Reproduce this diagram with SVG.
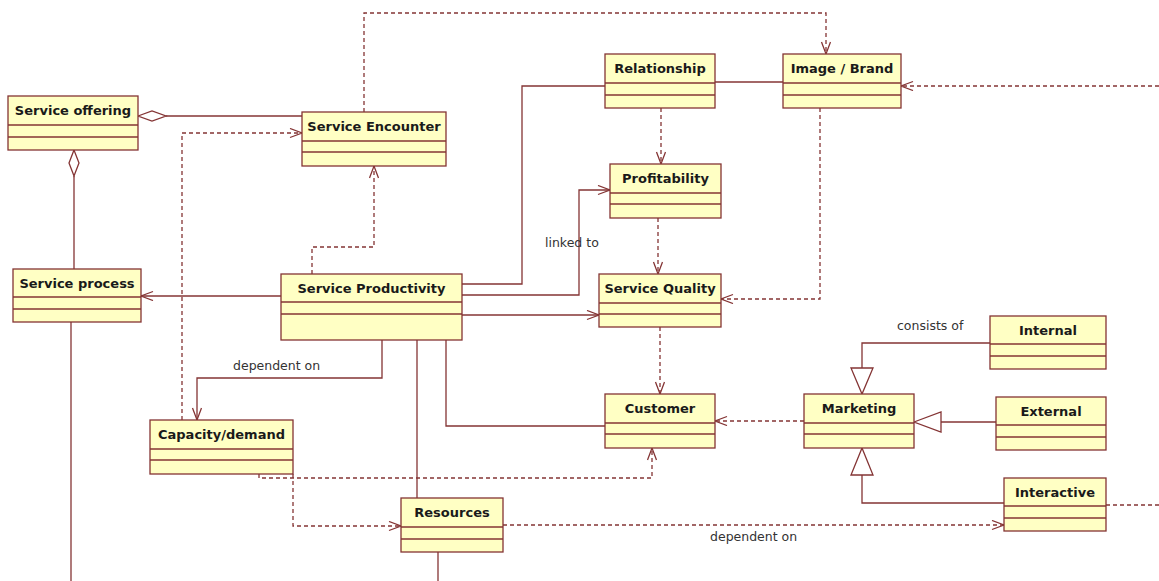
<svg xmlns="http://www.w3.org/2000/svg" width="1159" height="581" viewBox="0 0 1159 581">
<style>
.box{fill:#ffffc4;stroke:#843434;stroke-width:1.3}
.div{stroke:#843434;stroke-width:1.3}
.t{font-family:"DejaVu Sans",sans-serif;font-weight:bold;font-size:13px;fill:#1a1a1a;text-anchor:middle}
.lbl{font-family:"DejaVu Sans",sans-serif;font-size:12.5px;fill:#333333}
.s{fill:none;stroke:#843434;stroke-width:1.3}
.d{fill:none;stroke:#843434;stroke-width:1.3;stroke-dasharray:4 3}
.a{marker-end:url(#arr)}
.hol{fill:#ffffff;stroke:#843434;stroke-width:1.3}
</style>
<defs>
<marker id="arr" markerUnits="userSpaceOnUse" markerWidth="16" markerHeight="12" refX="13" refY="5" orient="auto">
<path d="M1,0.5 L13,5 L1,9.5" fill="none" stroke="#843434" stroke-width="1.3"/>
</marker>
</defs>
<rect width="1159" height="581" fill="#ffffff"/>
<g id="connectors">
<path class="s" d="M166,116 L302,116"/>
<polygon class="hol" points="138,116 152,111 166,116 152,121"/>
<path class="s" d="M74,176 L74,269"/>
<polygon class="hol" points="74,150 69,163 74,176 79,163"/>
<path class="s" d="M71,322 L71,581"/>
<path class="s" d="M438,552 L438,581"/>
<path class="s a" d="M281,296 L141,296"/>
<path class="d a" d="M312,274 L312,247 L374,247 L374,166"/>
<path class="d a" d="M364,112 L364,13 L826,13 L826,54"/>
<path class="d a" d="M182,420 L182,133 L302,133"/>
<path class="s a" d="M382,340 L382,378 L197,378 L197,420"/>
<path class="s" d="M462,284 L522,284 L522,86 L605,86"/>
<path class="s a" d="M462,295 L579,295 L579,190 L610,190"/>
<path class="s a" d="M462,315 L599,315"/>
<path class="s" d="M715,82 L783,82"/>
<path class="d a" d="M661,108 L661,164"/>
<path class="d a" d="M658,218 L658,274"/>
<path class="d a" d="M820,108 L820,299 L721,299"/>
<path class="d a" d="M1159,86 L901,86"/>
<path class="d a" d="M660,327 L660,394"/>
<path class="s" d="M446,340 L446,426 L605,426"/>
<path class="s" d="M417,340 L417,498"/>
<path class="d a" d="M804,421 L715,421"/>
<path class="s" d="M990,343 L862,343 L862,368"/>
<polygon class="hol" points="862,394 851,368 873,368"/>
<path class="s" d="M996,422 L941,422"/>
<polygon class="hol" points="914,422 941,412 941,432"/>
<path class="s" d="M1004,503 L862,503 L862,475"/>
<polygon class="hol" points="862,448 851,475 873,475"/>
<path class="d" d="M1106,505 L1159,505"/>
<path class="d a" d="M503,525 L1004,525"/>
<path class="d a" d="M293,474 L293,526 L401,526"/>
<path class="d a" d="M259,474 L259,478 L652,478 L652,448"/>
<text class="lbl" x="545" y="247">linked to</text>
<text class="lbl" x="233" y="370">dependent on</text>
<text class="lbl" x="897" y="330">consists of</text>
<text class="lbl" x="710" y="541">dependent on</text>
</g>
<g id="service-offering">
<rect class="box" x="8" y="96" width="130" height="54"/>
<line class="div" x1="8" y1="125" x2="138" y2="125"/><line class="div" x1="8" y1="137" x2="138" y2="137"/>
<text class="t" x="73" y="115">Service offering</text>
</g>
<g id="service-encounter">
<rect class="box" x="302" y="112" width="144" height="54"/>
<line class="div" x1="302" y1="141" x2="446" y2="141"/><line class="div" x1="302" y1="152" x2="446" y2="152"/>
<text class="t" x="374" y="131">Service Encounter</text>
</g>
<g id="service-process">
<rect class="box" x="13" y="269" width="128" height="53"/>
<line class="div" x1="13" y1="297" x2="141" y2="297"/><line class="div" x1="13" y1="309" x2="141" y2="309"/>
<text class="t" x="77" y="288">Service process</text>
</g>
<g id="service-productivity">
<rect class="box" x="281" y="274" width="181" height="66"/>
<line class="div" x1="281" y1="302" x2="462" y2="302"/><line class="div" x1="281" y1="314" x2="462" y2="314"/>
<text class="t" x="371.5" y="293">Service Productivity</text>
</g>
<g id="relationship">
<rect class="box" x="605" y="54" width="110" height="54"/>
<line class="div" x1="605" y1="83" x2="715" y2="83"/><line class="div" x1="605" y1="95" x2="715" y2="95"/>
<text class="t" x="660" y="73">Relationship</text>
</g>
<g id="image-brand">
<rect class="box" x="783" y="54" width="118" height="54"/>
<line class="div" x1="783" y1="83" x2="901" y2="83"/><line class="div" x1="783" y1="95" x2="901" y2="95"/>
<text class="t" x="842" y="73">Image / Brand</text>
</g>
<g id="profitability">
<rect class="box" x="610" y="164" width="111" height="54"/>
<line class="div" x1="610" y1="193" x2="721" y2="193"/><line class="div" x1="610" y1="204" x2="721" y2="204"/>
<text class="t" x="665.5" y="183">Profitability</text>
</g>
<g id="service-quality">
<rect class="box" x="599" y="274" width="122" height="53"/>
<line class="div" x1="599" y1="303" x2="721" y2="303"/><line class="div" x1="599" y1="314" x2="721" y2="314"/>
<text class="t" x="660" y="293">Service Quality</text>
</g>
<g id="customer">
<rect class="box" x="605" y="394" width="110" height="54"/>
<line class="div" x1="605" y1="423" x2="715" y2="423"/><line class="div" x1="605" y1="434" x2="715" y2="434"/>
<text class="t" x="660" y="413">Customer</text>
</g>
<g id="marketing">
<rect class="box" x="804" y="394" width="110" height="54"/>
<line class="div" x1="804" y1="423" x2="914" y2="423"/><line class="div" x1="804" y1="434" x2="914" y2="434"/>
<text class="t" x="859" y="413">Marketing</text>
</g>
<g id="internal">
<rect class="box" x="990" y="316" width="116" height="53"/>
<line class="div" x1="990" y1="344" x2="1106" y2="344"/><line class="div" x1="990" y1="356" x2="1106" y2="356"/>
<text class="t" x="1048" y="335">Internal</text>
</g>
<g id="external">
<rect class="box" x="996" y="397" width="110" height="53"/>
<line class="div" x1="996" y1="425" x2="1106" y2="425"/><line class="div" x1="996" y1="437" x2="1106" y2="437"/>
<text class="t" x="1051" y="416">External</text>
</g>
<g id="interactive">
<rect class="box" x="1004" y="478" width="102" height="53"/>
<line class="div" x1="1004" y1="506" x2="1106" y2="506"/><line class="div" x1="1004" y1="518" x2="1106" y2="518"/>
<text class="t" x="1055" y="497">Interactive</text>
</g>
<g id="capacity-demand">
<rect class="box" x="150" y="420" width="143" height="54"/>
<line class="div" x1="150" y1="449" x2="293" y2="449"/><line class="div" x1="150" y1="460" x2="293" y2="460"/>
<text class="t" x="221.5" y="439">Capacity/demand</text>
</g>
<g id="resources">
<rect class="box" x="401" y="498" width="102" height="54"/>
<line class="div" x1="401" y1="527" x2="503" y2="527"/><line class="div" x1="401" y1="539" x2="503" y2="539"/>
<text class="t" x="452" y="517">Resources</text>
</g>
</svg>
